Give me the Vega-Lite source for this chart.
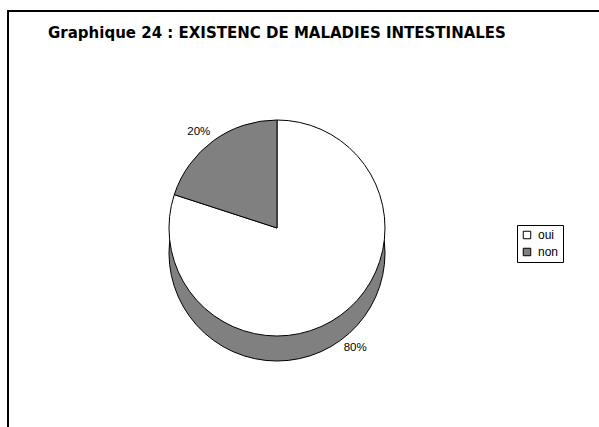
{
  "$schema": "https://vega.github.io/schema/vega-lite/v6.json",
  "width": 600,
  "height": 430,
  "autosize": {"type": "none"},
  "padding": {"left": 8, "top": 11, "right": 0, "bottom": 0},
  "background": "white",
  "view": {"stroke": "black", "strokeWidth": 2, "fill": "white"},
  "title": {
    "text": "Graphique 24 : EXISTENC DE MALADIES INTESTINALES",
    "anchor": "start",
    "frame": "group",
    "orient": "top",
    "offset": -30,
    "dx": 40,
    "font": "DejaVu Sans",
    "fontSize": 15,
    "fontWeight": "bold",
    "color": "black"
  },
  "data": {
    "values": [
      {"categorie": "oui", "pourcentage": 80, "etiquette": "80%"},
      {"categorie": "non", "pourcentage": 20, "etiquette": "20%"}
    ]
  },
  "encoding": {
    "theta": {"field": "pourcentage", "type": "quantitative", "stack": true},
    "order": {"field": "categorie", "sort": "descending"}
  },
  "layer": [
    {
      "mark": {"type": "arc", "outerRadius": 108, "fill": "#808080", "stroke": "black", "strokeWidth": 1, "xOffset": -31, "yOffset": 27}
    },
    {
      "mark": {"type": "arc", "outerRadius": 108, "stroke": "black", "strokeWidth": 1, "xOffset": -31, "yOffset": 2},
      "encoding": {
        "color": {
          "field": "categorie",
          "type": "nominal",
          "sort": ["oui", "non"],
          "scale": {"domain": ["oui", "non"], "range": ["#ffffff", "#808080"]},
          "legend": {"title": null, "orient": "none", "legendX": 509, "legendY": 214}
        }
      }
    },
    {
      "mark": {"type": "text", "radius": 133, "xOffset": -31, "yOffset": 14, "font": "Liberation Sans", "fontSize": 11.5, "color": "black"},
      "encoding": {"text": {"field": "etiquette", "type": "nominal"}}
    }
  ],
  "config": {
    "legend": {
      "strokeColor": "black",
      "strokeWidth": 1,
      "padding": 4,
      "symbolType": "square",
      "symbolSize": 56,
      "symbolStrokeColor": "black",
      "symbolStrokeWidth": 1,
      "labelFont": "Liberation Sans",
      "labelFontSize": 12,
      "labelColor": "black",
      "labelOffset": 5,
      "rowPadding": 5
    }
  }
}
